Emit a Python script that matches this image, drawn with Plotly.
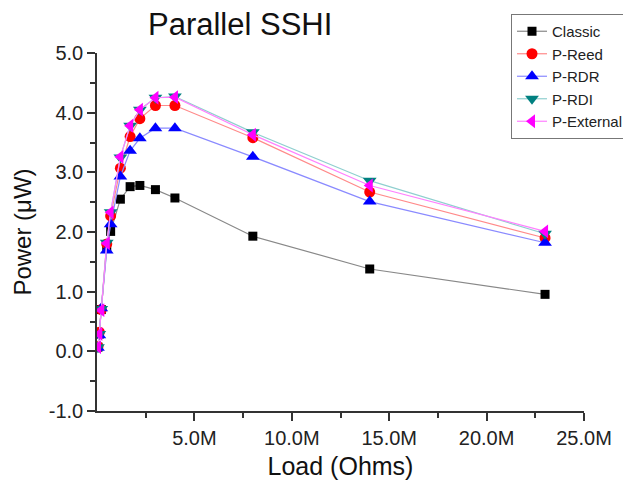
import plotly.graph_objects as go

# Load in mega-ohms
load_M = [0.05, 0.12, 0.22, 0.5, 0.7, 1.2, 1.7, 2.2, 3.0, 4.0, 8.0, 14.0, 23.0]

classic  = [0.07, 0.29, 0.70, 1.75, 2.01, 2.55, 2.76, 2.78, 2.71, 2.57, 1.93, 1.38, 0.955]
p_reed   = [0.08, 0.32, 0.70, 1.80, 2.27, 3.07, 3.60, 3.90, 4.12, 4.12, 3.58, 2.67, 1.90]
p_rdr    = [0.06, 0.27, 0.72, 1.69, 2.13, 2.93, 3.36, 3.57, 3.74, 3.74, 3.26, 2.51, 1.82]
p_rdi    = [0.07, 0.29, 0.71, 1.82, 2.33, 3.25, 3.78, 4.05, 4.25, 4.27, 3.67, 2.86, 1.97]
p_ext    = [0.07, 0.29, 0.69, 1.81, 2.33, 3.26, 3.78, 4.05, 4.25, 4.26, 3.63, 2.78, 2.01]

x_tick_vals_M = [5, 10, 15, 20, 25]
x_tick_text = ["5.0M", "10.0M", "15.0M", "20.0M", "25.0M"]
y_tick_vals = [-1, 0, 1, 2, 3, 4, 5]
y_tick_text = ["-1.0", "0.0", "1.0", "2.0", "3.0", "4.0", "5.0"]

load_ohm = [v * 1e6 for v in load_M]

series = [
    ("Classic", classic, "#888888", "#000000", "square", 9),
    ("P-Reed", p_reed, "#ff8a8a", "#ff0000", "circle", 11),
    ("P-RDR", p_rdr, "#8a8aff", "#0000ff", "triangle-up", 12),
    ("P-RDI", p_rdi, "#8fcfcf", "#008080", "triangle-down", 12),
    ("P-External", p_ext, "#ff80ff", "#ff00ff", "triangle-left", 12),
]

fig = go.Figure()
for name, vals, lc, mc, sym, sz in series:
    fig.add_trace(go.Scatter(
        x=load_ohm, y=vals, name=name, mode="lines+markers",
        line=dict(color=lc, width=1.2),
        marker=dict(color=mc, symbol=sym, size=sz, line=dict(width=0)),
    ))

FONT = "Liberation Sans, Arial, sans-serif"
axis_font = dict(family=FONT, size=20, color="#222222")

# page body has an 8px margin; figure is sized so that it fills the 631x488 window
OFF = 8
W, H = 631 - OFF, 488 - OFF
# plot area in window pixels: x 97..584, y 53..411
L = 97 - OFF
R = W - (584 - OFF)
T = 53 - OFF
B = H - (411 - OFF)
pw, ph = W - L - R, H - T - B

def px(xw):
    return (xw - OFF - L) / pw

def py(yw):
    return (H - B - (yw - OFF)) / ph

fig.update_layout(
    width=W, height=H,
    margin=dict(l=L, r=R, t=T, b=B, autoexpand=False),
    paper_bgcolor="white", plot_bgcolor="white",
    font=dict(family=FONT, color="#222222"),
    showlegend=True,
    legend=dict(
        x=px(629), y=py(14), xanchor="right", yanchor="top",
        bordercolor="#777777", borderwidth=1, bgcolor="white",
        font=dict(size=15, color="#222222"),
        tracegroupgap=0,
    ),
    annotations=[dict(
        text="Parallel SSHI",
        x=px(240), y=py(25), xref="paper", yref="paper",
        xanchor="center", yanchor="middle",
        showarrow=False, font=dict(size=31, color="#111111"),
    )],
)

fig.update_xaxes(
    range=[0, 25e6], automargin=False,
    tickvals=[v * 1e6 for v in x_tick_vals_M], ticktext=x_tick_text,
    ticks="outside", ticklen=8, tickwidth=1.5, tickcolor="#333333",
    showline=True, linecolor="#333333", linewidth=1.5,
    showgrid=False, zeroline=False,
    tickfont=axis_font,
    minor=dict(tickvals=[2.5e6, 7.5e6, 12.5e6, 17.5e6, 22.5e6], ticks="outside", ticklen=5,
               tickwidth=1.5, tickcolor="#333333", showgrid=False),
    title=dict(text="Load (Ohms)", font=dict(size=25, color="#111111"), standoff=10),
)
fig.update_yaxes(
    range=[-1, 5], automargin=False,
    tickvals=y_tick_vals, ticktext=y_tick_text,
    ticks="outside", ticklen=8, tickwidth=1.5, tickcolor="#333333",
    showline=True, linecolor="#333333", linewidth=1.5,
    showgrid=False, zeroline=False,
    tickfont=axis_font,
    minor=dict(tickvals=[-0.5, 0.5, 1.5, 2.5, 3.5, 4.5], ticks="outside", ticklen=5,
               tickwidth=1.5, tickcolor="#333333", showgrid=False),
    title=dict(text="Power (μW)", font=dict(size=24, color="#111111"), standoff=10),
)

fig.write_html("out.html")
